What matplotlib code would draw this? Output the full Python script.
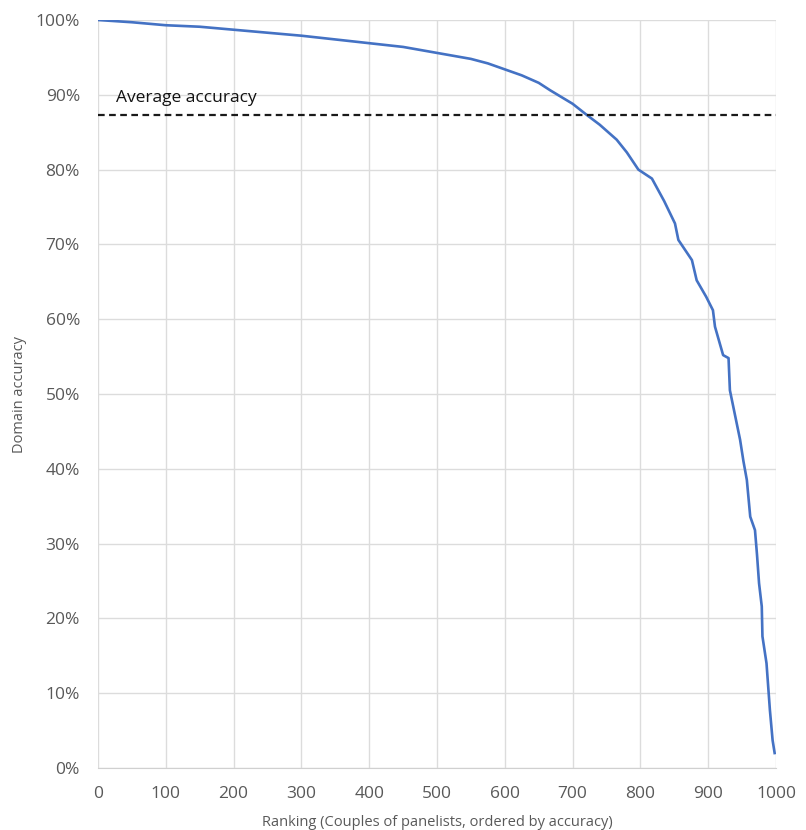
import numpy as np
import matplotlib.pyplot as plt
from matplotlib.ticker import PercentFormatter

# ranking of panelist couples vs their domain accuracy (%)
ranking = [0, 50, 100, 150, 200, 250, 300, 350, 400, 450, 500, 550, 575, 600,
           625, 650, 667, 700, 721, 740, 765, 780, 797, 817, 835, 851, 856,
           876, 883, 897, 907, 910, 922, 930, 932, 937, 947, 952, 957, 962,
           969, 972, 975, 979, 980, 986, 991, 995, 998]
accuracy = [100.0, 99.7, 99.3, 99.1, 98.7, 98.3, 97.9, 97.4, 96.9, 96.4, 95.6,
            94.8, 94.2, 93.4, 92.6, 91.6, 90.6, 88.8, 87.3, 86.0, 84.0, 82.3,
            80.0, 78.8, 75.8, 72.8, 70.6, 67.9, 65.2, 63.0, 61.2, 59.0, 55.2,
            54.8, 50.5, 48.3, 43.9, 41.0, 38.5, 33.6, 31.8, 28.5, 24.7, 21.6,
            17.6, 14.0, 7.75, 3.7, 2.0]
average = 87.3

plt.rcParams['font.family'] = ['Open Sans', 'DejaVu Sans']

fig = plt.figure(figsize=(8.06, 8.30), dpi=100)
ax = fig.add_axes([98 / 806, 1 - 768 / 830, 678 / 806, 748 / 830])

ax.plot(ranking, accuracy, color='#4472C4', linewidth=1.9, zorder=3)
ax.axhline(average, color='#1a1a1a', linewidth=1.6, linestyle=(0, (3, 2)), zorder=4)
ax.text(27, 89.6, 'Average accuracy', fontsize=12.5, color='#111111', va='center')

ax.set_xlim(0, 1000)
ax.set_ylim(0, 100)
ax.set_xticks(np.arange(0, 1001, 100))
ax.set_yticks(np.arange(0, 101, 10))
ax.yaxis.set_major_formatter(PercentFormatter(decimals=0))

ax.grid(True, color='#dcdcdc', linewidth=1)
ax.set_axisbelow(True)
for side in ['top', 'right', 'left']:
    ax.spines[side].set_visible(False)
ax.spines['bottom'].set_color('#d0d0d0')
ax.tick_params(length=0, labelsize=12.5, labelcolor='#595959', pad=13)

ax.set_xlabel('Ranking (Couples of panelists, ordered by accuracy)', fontsize=10.5,
              color='#595959', labelpad=9)
ax.set_ylabel('Domain accuracy', fontsize=10.5, color='#595959', labelpad=6)

fig.savefig('out.png', dpi=100)
